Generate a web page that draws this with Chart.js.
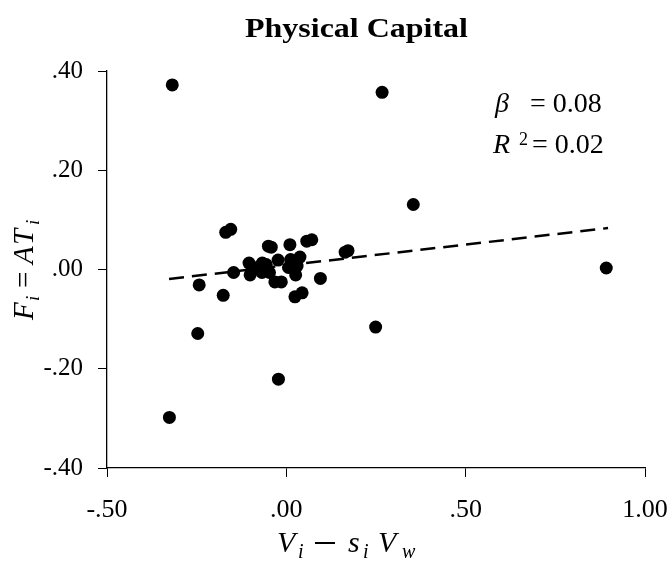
<!DOCTYPE html>
<html><head><meta charset="utf-8">
<script src="https://cdn.jsdelivr.net/npm/chart.js@4/dist/chart.umd.min.js"></script>
<style>html,body{margin:0;padding:0;background:#fff}#wrap{width:670px;height:570px;position:relative}</style>
</head><body><div id="wrap"><canvas id="c" width="670" height="570"></canvas></div>
<script>
// Data
const xValues = [-0.318,0.267,0.354,0.892,0.249,-0.247,-0.022,-0.326,-0.243,-0.176,-0.169,-0.155,-0.147,0.095,0.164,0.172,-0.050,-0.042,0.010,0.057,0.071,0.038,-0.023,0.012,-0.104,-0.067,-0.056,-0.101,-0.068,-0.047,-0.032,-0.014,0.006,0.030,0.026,0.024,0.044,-0.086];
const yValues = [0.372,0.357,0.131,0.003,-0.116,-0.129,-0.221,-0.298,-0.031,-0.052,0.075,0.081,-0.006,-0.018,0.035,0.038,0.047,0.045,0.050,0.057,0.060,0.025,0.019,0.020,0.013,0.013,0.010,-0.011,-0.006,-0.006,-0.025,-0.025,0.004,0.007,-0.011,-0.055,-0.047,0.003];
const trendX = [-0.327, 0.897];
const trendY = [-0.019, 0.0835];
const xTickValues = [-0.5, 0, 0.5, 1.0];
const xTickLabels = ['-.50', '.00', '.50', '1.00'];
const yTickValues = [-0.4, -0.2, 0, 0.2, 0.4];
const yTickLabels = ['-.40', '-.20', '.00', '.20', '.40'];
const chartTitle = 'Physical Capital';
const statBeta = '0.08';
const statR2 = '0.02';

const SERIF = '"Liberation Serif", "Times New Roman", serif';

function put(ctx, t, x, y, size, italic, bold) {
  ctx.font = (italic ? 'italic ' : '') + (bold ? 'bold ' : '') + size + 'px ' + SERIF;
  ctx.fillText(t, x, y);
}

const textPlugin = {
  id: 'texts',
  afterDraw(chart) {
    const ctx = chart.ctx;
    ctx.save();
    ctx.fillStyle = '#000';
    ctx.textBaseline = 'alphabetic';
    // title (slightly wide face in the reference)
    ctx.save();
    ctx.font = 'bold 28px ' + SERIF;
    const tw = ctx.measureText(chartTitle).width;
    const sx = 223 / tw;
    ctx.translate(356.5, 37);
    ctx.scale(sx, 1);
    ctx.textAlign = 'center';
    ctx.fillText(chartTitle, 0, 0);
    ctx.restore();
    ctx.textAlign = 'left';
    // stats
    put(ctx, 'β', 495, 112, 28, true);
    put(ctx, '= ' + statBeta, 530, 112, 28, false);
    put(ctx, 'R', 493, 153, 28, true);
    put(ctx, '2', 519, 145, 18, false);
    put(ctx, '= ' + statR2, 532, 153, 28, false);
    // x axis title
    put(ctx, 'V', 277, 552, 30, true);
    put(ctx, 'i', 298, 558, 20, true);
    ctx.fillRect(315, 542, 20, 2);
    put(ctx, 's', 348, 552, 30, true);
    put(ctx, 'i', 363, 558, 20, true);
    put(ctx, 'V', 378, 552, 30, true);
    put(ctx, 'w', 402, 558, 20, true);
    // y axis title (rotated)
    ctx.translate(33, 320);
    ctx.rotate(-Math.PI / 2);
    put(ctx, 'F', 0, 0, 29, true);
    put(ctx, 'i', 19, 6, 19, true);
    put(ctx, '=', 32, 0, 29, false);
    put(ctx, 'A', 56, 0, 29, true);
    put(ctx, 'T', 75, 0, 29, true);
    put(ctx, 'i', 95, 6, 19, true);
    ctx.restore();
  }
};

const scatterData = xValues.map((x, i) => ({x, y: yValues[i]}));
const trendData = trendX.map((x, i) => ({x, y: trendY[i]}));

new Chart(document.getElementById('c'), {
  type: 'scatter',
  data: {
    datasets: [
      {data: scatterData, backgroundColor: '#000', borderColor: '#000', pointRadius: 6.5, pointBorderWidth: 0, order: 1},
      {type: 'line', data: trendData, borderColor: '#000', borderWidth: 2.5, borderDash: [15, 8], pointRadius: 0, fill: false, order: 2}
    ]
  },
  options: {
    responsive: false,
    animation: false,
    devicePixelRatio: 1,
    layout: {padding: {top: 71, right: 25, left: 0, bottom: 0}},
    plugins: {legend: {display: false}, tooltip: {enabled: false}, title: {display: false}},
    scales: {
      x: {
        type: 'linear', min: -0.5, max: 1.0,
        afterFit: s => { s.height = 102; s.paddingLeft = 0; s.paddingRight = 0; },
        afterBuildTicks: s => { s.ticks = xTickValues.map(v => ({value: v})); },
        ticks: {
          color: '#000', padding: 18, maxRotation: 0, autoSkip: false,
          font: {family: SERIF, size: 26},
          callback: v => xTickLabels[xTickValues.indexOf(v)]
        },
        grid: {display: true, drawOnChartArea: false, drawTicks: true, tickLength: 9, color: '#000', lineWidth: 1},
        border: {display: true, color: '#000', width: 1.3}
      },
      y: {
        type: 'linear', min: -0.4, max: 0.4,
        afterFit: s => { s.width = 107; s.paddingTop = 0; s.paddingBottom = 0; },
        afterBuildTicks: s => { s.ticks = yTickValues.map(v => ({value: v})); },
        ticks: {
          color: '#000', padding: 15, autoSkip: false,
          font: {family: SERIF, size: 25},
          callback: v => yTickLabels[yTickValues.indexOf(v)]
        },
        grid: {display: true, drawOnChartArea: false, drawTicks: true, tickLength: 9, color: '#000', lineWidth: 1},
        border: {display: true, color: '#000', width: 1.3}
      }
    }
  },
  plugins: [textPlugin]
});
</script></body></html>
